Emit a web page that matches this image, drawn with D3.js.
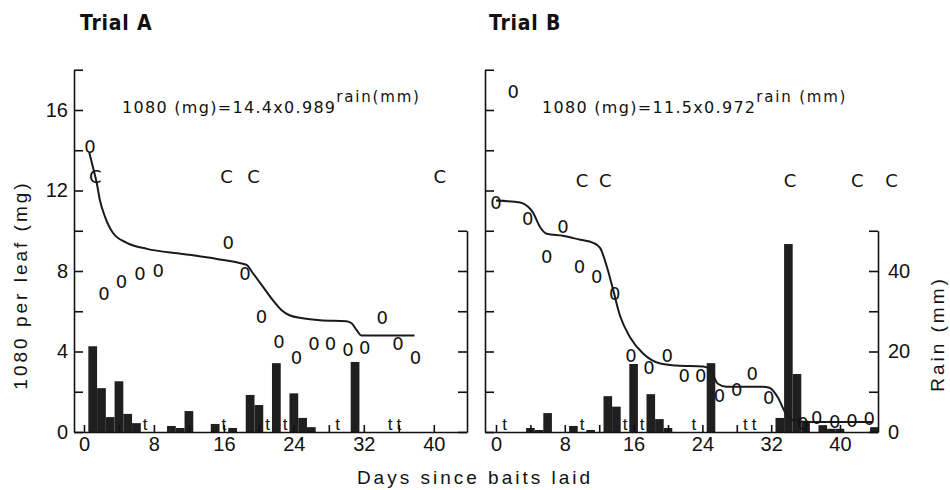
<!DOCTYPE html>
<html>
<head>
<meta charset="utf-8">
<script src="https://cdn.jsdelivr.net/npm/d3@7/dist/d3.min.js"></script>
<style>
body { margin: 0; background: #fff; }
text { font-family: "Liberation Sans", Arial, sans-serif; fill: #111; }
</style>
</head>
<body>
<script>
// ---- data ----
// daily rain (mm), bars
var rainA = [
    {day: 1, mm: 21.3}, {day: 2, mm: 10.9}, {day: 3, mm: 3.7}, {day: 4, mm: 12.6},
    {day: 5, mm: 4.5}, {day: 6, mm: 2.2}, {day: 10, mm: 1.5}, {day: 11, mm: 1.0},
    {day: 12, mm: 5.2}, {day: 15, mm: 2.0}, {day: 17, mm: 1.0}, {day: 19, mm: 9.2},
    {day: 20, mm: 6.7}, {day: 22, mm: 17.1}, {day: 24, mm: 9.6}, {day: 25, mm: 3.5},
    {day: 26, mm: 1.2}, {day: 31, mm: 17.4}
];
var rainB = [
    {day: 4, mm: 1.0}, {day: 5, mm: 0.5}, {day: 6, mm: 4.7}, {day: 9, mm: 1.5},
    {day: 11, mm: 0.5}, {day: 13, mm: 8.9}, {day: 14, mm: 6.3}, {day: 16, mm: 16.9},
    {day: 18, mm: 9.4}, {day: 19, mm: 3.2}, {day: 20, mm: 1.0}, {day: 25, mm: 17.1},
    {day: 33, mm: 3.5}, {day: 34, mm: 46.7}, {day: 35, mm: 14.4}, {day: 36, mm: 2.5},
    {day: 38, mm: 1.7}, {day: 39, mm: 0.8}, {day: 40, mm: 0.8}, {day: 44, mm: 1.2}
];
// days with trace rain ("t")
var traceA = [7, 16, 21, 23, 29, 35, 36];
var traceB = [1, 10, 15, 17, 23, 29, 30];

// 1080 per leaf observations ("0")
var obsA = [
    {day: 0.7, mg: 14.2}, {day: 2.3, mg: 6.9}, {day: 4.3, mg: 7.5}, {day: 6.4, mg: 7.85},
    {day: 8.5, mg: 8.0}, {day: 16.5, mg: 9.4}, {day: 18.4, mg: 7.85}, {day: 20.3, mg: 5.75},
    {day: 22.3, mg: 4.5}, {day: 24.3, mg: 3.7}, {day: 26.3, mg: 4.4}, {day: 28.2, mg: 4.4},
    {day: 30.2, mg: 4.1}, {day: 32.1, mg: 4.2}, {day: 34.1, mg: 5.7}, {day: 35.9, mg: 4.4},
    {day: 37.9, mg: 3.7}
];
var obsB = [
    {day: 0, mg: 11.4}, {day: 2, mg: 16.9}, {day: 3.7, mg: 10.6}, {day: 5.9, mg: 8.7},
    {day: 7.8, mg: 10.2}, {day: 9.7, mg: 8.2}, {day: 11.7, mg: 7.75}, {day: 13.8, mg: 6.9},
    {day: 15.7, mg: 3.8}, {day: 17.8, mg: 3.2}, {day: 19.9, mg: 3.8}, {day: 21.9, mg: 2.8},
    {day: 23.8, mg: 2.8}, {day: 26, mg: 1.8}, {day: 28, mg: 2.1}, {day: 29.8, mg: 2.9},
    {day: 31.7, mg: 1.7}, {day: 35.7, mg: 0.4}, {day: 37.3, mg: 0.7}, {day: 39.4, mg: 0.5},
    {day: 41.4, mg: 0.55}, {day: 43.4, mg: 0.65}
];
// "C" markers
var ceesA = [{day: 1.3, mg: 12.7}, {day: 16.3, mg: 12.7}, {day: 19.4, mg: 12.7}, {day: 40.7, mg: 12.7}];
var ceesB = [{day: 10, mg: 12.5}, {day: 12.7, mg: 12.5}, {day: 34.2, mg: 12.5}, {day: 42, mg: 12.5}, {day: 46, mg: 12.5}];

// fitted curve
var curveA = [
    [0.6, 13.9], [1.0, 13.2], [1.45, 12.4], [1.83, 11.5], [2.4, 10.7], [3.3, 9.9], [4.9, 9.4],
    [7.2, 9.1], [11.3, 8.85], [15.2, 8.6], [17.8, 8.4], [18.6, 8.3], [19.3, 7.9], [20.5, 7.2],
    [21.6, 6.55], [22.6, 6.05], [23.5, 5.8], [25.0, 5.65], [27.0, 5.55], [30.0, 5.5],
    [30.6, 5.4], [31.2, 5.05], [31.7, 4.8], [37.8, 4.8]
];
var curveB = [
    [0, 11.5], [2.8, 11.4], [3.7, 11.2], [4.3, 10.9], [5.1, 10.2], [5.9, 9.85], [7.8, 9.75],
    [9.8, 9.55], [11.3, 9.4], [12.1, 9.15], [12.9, 8.2], [13.6, 7.1], [14.4, 5.8], [15.6, 4.7],
    [17.1, 3.9], [19.1, 3.4], [21.0, 3.3], [24.1, 3.25], [24.9, 3.1], [25.8, 2.4], [26.8, 2.25],
    [31.0, 2.25], [31.8, 2.2], [32.8, 1.7], [33.6, 1.0], [34.5, 0.6], [36.5, 0.5], [43.8, 0.5]
];

// ticks
var dayTicks = d3.range(0, 44, 4);
var dayTickLabels = [0, 8, 16, 24, 32, 40];
var mgTicks = d3.range(0, 20, 2);
var mgTickLabels = [0, 4, 8, 12, 16];
var rainTicks = [0, 10, 20, 30, 40, 50];
var rainTickLabels = [0, 20, 40];

var svg = d3.select("body")
    .append("svg")
    .attr("width", 950)
    .attr("height", 490)
    .style("display", "block");

var base = 432;

var panels = [
    {title: "Trial A", titleX: 80, rain: rainA, trace: traceA, obs: obsA, cees: ceesA, curve: curveA,
     formula: "1080 (mg)=14.4x0.989", sup: "rain(mm)", formulaX: 122,
     left: 74, right: 467, dayMin: -1.14, dayMax: 43.8, leftLabels: true, rainLabels: false},
    {title: "Trial B", titleX: 489, rain: rainB, trace: traceB, obs: obsB, cees: ceesB, curve: curveB,
     formula: "1080 (mg)=11.5x0.972", sup: "rain (mm)", formulaX: 542,
     left: 485, right: 878, dayMin: -1.28, dayMax: 44.42, leftLabels: false, rainLabels: true}
];

panels.forEach(drawPanel);

function drawPanel(p) {
    var x = d3.scaleLinear().domain([p.dayMin, p.dayMax]).range([p.left, p.right]);
    var y = d3.scaleLinear().domain([0, 18]).range([base, base - 18 * 20.125]);
    var yr = d3.scaleLinear().domain([0, 50]).range([base, base - 50 * 4.025]);
    var g = svg.append("g");

    // rain bars
    g.selectAll("rect.bar")
        .data(p.rain)
        .enter()
        .append("rect")
        .attr("class", "bar")
        .attr("x", function(d) { return x(d.day - 0.5); })
        .attr("width", function(d) { return x(d.day + 0.5) - x(d.day - 0.5); })
        .attr("y", function(d) { return yr(d.mm); })
        .attr("height", function(d) { return base - yr(d.mm); })
        .attr("fill", "#1f1f1f");

    // trace rain
    g.selectAll("text.trace")
        .data(p.trace)
        .enter()
        .append("text")
        .attr("class", "trace")
        .attr("x", function(d) { return x(d); })
        .attr("y", base - 2)
        .attr("text-anchor", "middle")
        .style("font-size", "17px")
        .text("t");

    // curve
    var line = d3.line()
        .x(function(d) { return x(d[0]); })
        .y(function(d) { return y(d[1]); })
        .curve(d3.curveMonotoneX);
    g.append("path")
        .datum(p.curve)
        .attr("d", line)
        .attr("fill", "none")
        .attr("stroke", "#1a1a1a")
        .attr("stroke-width", 2);

    // observations
    g.selectAll("text.obs")
        .data(p.obs)
        .enter()
        .append("text")
        .attr("class", "obs")
        .attr("x", function(d) { return x(d.day); })
        .attr("y", function(d) { return y(d.mg); })
        .attr("dy", "0.36em")
        .attr("text-anchor", "middle")
        .style("font-family", "DejaVu Sans, sans-serif")
        .style("font-size", "18px")
        .text("0");

    g.selectAll("text.cee")
        .data(p.cees)
        .enter()
        .append("text")
        .attr("class", "cee")
        .attr("x", function(d) { return x(d.day); })
        .attr("y", function(d) { return y(d.mg); })
        .attr("dy", "0.36em")
        .attr("text-anchor", "middle")
        .style("font-family", "DejaVu Sans, sans-serif")
        .style("font-size", "18px")
        .text("C");

    // axes
    var xAxis = d3.axisBottom(x)
        .tickValues(dayTicks)
        .tickSizeInner(-7)
        .tickSizeOuter(0)
        .tickPadding(5)
        .tickFormat(function(d) { return dayTickLabels.indexOf(d) >= 0 ? d : ""; });
    var ax = g.append("g")
        .attr("transform", "translate(0," + base + ")")
        .call(xAxis);

    var yAxis = d3.axisLeft(y)
        .tickValues(mgTicks)
        .tickSizeInner(-9)
        .tickSizeOuter(0)
        .tickPadding(6)
        .tickFormat(function(d) { return p.leftLabels && mgTickLabels.indexOf(d) >= 0 ? d : ""; });
    var ay = g.append("g")
        .attr("transform", "translate(" + p.left + ",0)")
        .call(yAxis);

    var rAxis = d3.axisRight(yr)
        .tickValues(rainTicks)
        .tickSizeInner(-9)
        .tickSizeOuter(0)
        .tickPadding(10)
        .tickFormat(function(d) { return p.rainLabels && rainTickLabels.indexOf(d) >= 0 ? d : ""; });
    var ar = g.append("g")
        .attr("transform", "translate(" + p.right + ",0)")
        .call(rAxis);

    [ax, ay, ar].forEach(function(a) {
        a.selectAll("path, line").attr("stroke", "#111").attr("stroke-width", 1.6);
        a.selectAll("text")
            .style("font-family", "Liberation Sans, Arial, sans-serif")
            .style("font-size", "20px")
            .attr("fill", "#111");
    });

    // title
    svg.append("text")
        .attr("x", p.titleX)
        .attr("y", 30)
        .style("font-family", "DejaVu Sans Condensed, sans-serif")
        .style("font-weight", "bold")
        .style("font-size", "21px")
        .style("letter-spacing", "0.8px")
        .attr("fill", "#222")
        .text(p.title);

    // equation
    var eq = svg.append("text")
        .attr("x", p.formulaX)
        .attr("y", 113)
        .style("font-family", "DejaVu Sans, sans-serif")
        .style("font-size", "16px")
        .style("letter-spacing", "1.3px");
    eq.append("tspan").text(p.formula);
    eq.append("tspan")
        .attr("dy", -11)
        .style("font-size", "15px")
        .style("letter-spacing", "1.8px")
        .text(p.sup);
}

// axis titles
svg.append("text")
    .attr("transform", "translate(27,285) rotate(-90)")
    .attr("text-anchor", "middle")
    .style("font-size", "19px")
    .style("letter-spacing", "3px")
    .text("1080 per leaf (mg)");

svg.append("text")
    .attr("transform", "translate(944,334) rotate(-90)")
    .attr("text-anchor", "middle")
    .style("font-size", "19px")
    .style("letter-spacing", "3px")
    .text("Rain (mm)");

svg.append("text")
    .attr("x", 475)
    .attr("y", 484)
    .attr("text-anchor", "middle")
    .style("font-size", "19px")
    .style("letter-spacing", "3px")
    .text("Days since baits laid");
</script>
</body>
</html>
